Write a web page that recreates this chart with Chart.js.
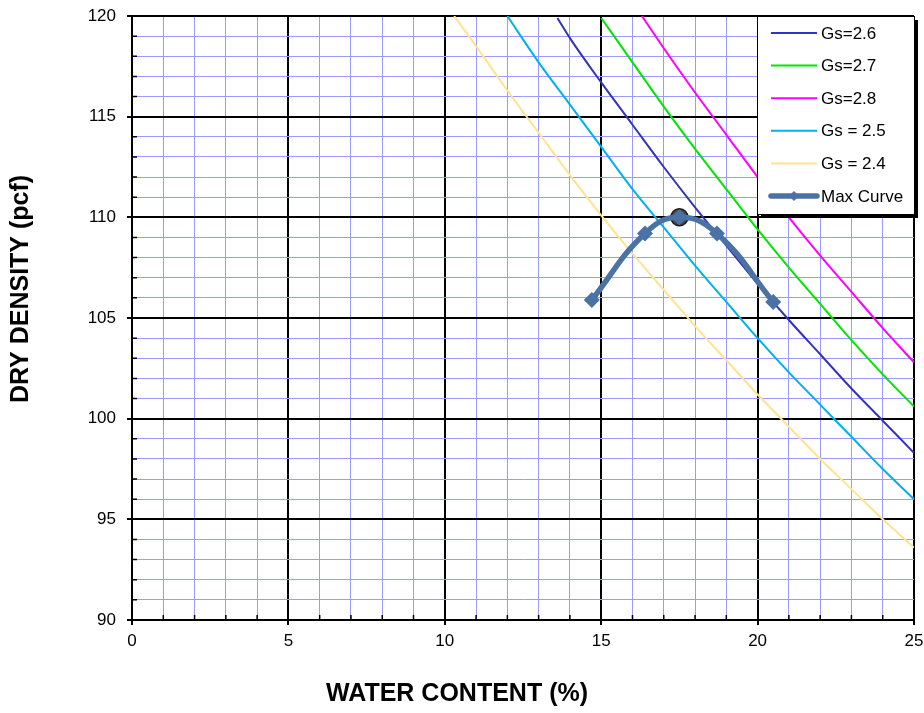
<!DOCTYPE html>
<html>
<head>
<meta charset="utf-8">
<script src="https://cdn.jsdelivr.net/npm/chart.js@4/dist/chart.umd.min.js"></script>
<style>
  html, body { margin: 0; padding: 0; background: #fff; }
  #wrap { width: 924px; height: 713px; }
</style>
</head>
<body>
<div id="wrap"><canvas id="compaction" width="924" height="713"></canvas></div>
<script>
// zero air voids lines (water content %, dry density pcf)
const wGs26 = [13.6, 14, 15, 16, 17, 18, 19, 20, 21, 22, 23, 24, 25]
const dGs26 = [119.9, 118.9, 116.7, 114.6, 112.5, 110.5, 108.6, 106.7, 104.9, 103.2, 101.5, 99.9, 98.3]

const wGs27 = [15, 16, 17, 18, 19, 20, 21, 22, 23, 24, 25]
const dGs27 = [119.9, 117.7, 115.5, 113.4, 111.4, 109.4, 107.5, 105.7, 103.9, 102.2, 100.6]

const wGs28 = [16.3, 17, 18, 19, 20, 21, 22, 23, 24, 25]
const dGs28 = [120, 118.4, 116.2, 114.1, 112.0, 110.0, 108.1, 106.3, 104.5, 102.8]

const wGs25 = [12, 13, 14, 15, 16, 17, 18, 19, 20, 21, 22, 23, 24, 25]
const dGs25 = [120, 117.7, 115.6, 113.5, 111.4, 109.5, 107.6, 105.8, 104.0, 102.3, 100.7, 99.1, 97.5, 96.0]

const wGs24 = [10.3, 11, 12, 13, 14, 15, 16, 17, 18, 19, 20, 21, 22, 23, 24, 25]
const dGs24 = [120, 118.5, 116.3, 114.2, 112.1, 110.1, 108.2, 106.4, 104.6, 102.9, 101.2, 99.6, 98.0, 96.5, 95.0, 93.6]

// compaction test points
const wMax = [14.7, 16.4, 17.5, 18.7, 20.5]
const dMax = [105.9, 109.2, 110.0, 109.2, 105.8]

// optimum
const wOpt = [17.5]
const dOpt = [110.0]

const xTitle = 'WATER CONTENT (%)'
const yTitle = 'DRY DENSITY (pcf)'

const pts = (w, d) => w.map((v, i) => ({ x: v, y: d[i] }))

Chart.defaults.font.family = '"Liberation Sans", Arial, sans-serif'
Chart.defaults.color = '#000'

const thin = (label, w, d, color) => ({
  label: label,
  data: pts(w, d),
  borderColor: color,
  backgroundColor: color,
  borderWidth: 2,
  pointRadius: 0,
  pointHoverRadius: 0,
  cubicInterpolationMode: 'monotone',
  order: 3
})

const isMajor = v => Math.round(v) % 5 === 0

// short black ticks pointing into the plot for the minor gridlines
const minorTicks = {
  id: 'minorTicks',
  afterDraw(chart) {
    const { ctx, chartArea: a, scales } = chart
    ctx.save()
    ctx.strokeStyle = '#000'
    ctx.lineWidth = 1.5
    ctx.beginPath()
    scales.x.ticks.forEach(t => {
      if (isMajor(t.value)) return
      const px = scales.x.getPixelForValue(t.value)
      ctx.moveTo(px, a.bottom)
      ctx.lineTo(px, a.bottom - 5)
    })
    scales.y.ticks.forEach(t => {
      if (isMajor(t.value)) return
      const py = scales.y.getPixelForValue(t.value)
      ctx.moveTo(a.left, py)
      ctx.lineTo(a.left + 5, py)
    })
    ctx.stroke()
    ctx.restore()
  }
}

// axis titles, placed the way the spreadsheet put them
const axisTitles = {
  id: 'axisTitles',
  afterDraw(chart) {
    const { ctx } = chart
    ctx.save()
    ctx.fillStyle = '#000'
    ctx.font = 'bold 25px "Liberation Sans", Arial, sans-serif'
    ctx.textAlign = 'center'
    ctx.textBaseline = 'middle'
    ctx.fillText(xTitle, 457, 694)
    ctx.translate(21, 289)
    ctx.rotate(-Math.PI / 2)
    ctx.fillText(yTitle, 0, 0)
    ctx.restore()
  }
}

// boxed legend in the top right corner of the plot
const boxLegend = {
  id: 'boxLegend',
  afterDraw(chart) {
    const { ctx, chartArea: a } = chart
    const boxW = 157, boxH = 198
    const left = a.right - boxW, top = a.top
    ctx.save()
    ctx.fillStyle = '#000'
    ctx.fillRect(left + 4, top + 4, boxW, boxH)
    ctx.fillStyle = '#fff'
    ctx.fillRect(left, top, boxW, boxH)
    ctx.strokeStyle = '#000'
    ctx.lineWidth = 1
    ctx.strokeRect(left + 0.5, top + 0.5, boxW, boxH)

    const items = chart.data.datasets.filter(d => d.label)
      .sort((p, q) => p.legendIndex - q.legendIndex)
    ctx.font = '17px "Liberation Sans", Arial, sans-serif'
    ctx.textBaseline = 'middle'
    ctx.textAlign = 'left'
    items.forEach((d, i) => {
      const y = top + 17 + i * 32.6
      const x0 = left + 14, x1 = left + 60
      ctx.strokeStyle = d.borderColor
      ctx.lineWidth = d.borderWidth
      ctx.lineCap = d.pointRadius ? 'round' : 'butt'
      ctx.beginPath()
      ctx.moveTo(x0, y)
      ctx.lineTo(x1, y)
      ctx.stroke()
      if (d.pointRadius) {
        const r = 5
        const cx = (x0 + x1) / 2
        ctx.fillStyle = d.backgroundColor
        ctx.beginPath()
        ctx.moveTo(cx, y - r)
        ctx.lineTo(cx + r, y)
        ctx.lineTo(cx, y + r)
        ctx.lineTo(cx - r, y)
        ctx.closePath()
        ctx.fill()
      }
      ctx.fillStyle = '#000'
      ctx.fillText(d.label, left + 64, y + 1)
    })
    ctx.restore()
  }
}

const maxCurve = {
  label: 'Max Curve',
  data: pts(wMax, dMax),
  borderColor: '#4a72a6',
  backgroundColor: '#4a72a6',
  borderWidth: 5.5,
  pointStyle: 'rectRot',
  pointRadius: 8,
  pointHoverRadius: 8,
  pointBorderWidth: 0,
  tension: 0.45,
  order: 1,
  legendIndex: 5
}

const optimum = {
  label: '',
  data: pts(wOpt, dOpt),
  showLine: false,
  pointStyle: 'circle',
  pointRadius: 8.5,
  pointHoverRadius: 8.5,
  backgroundColor: '#4d4d4d',
  borderColor: '#1a1a1a',
  borderWidth: 1.5,
  order: 2
}

const gs26 = Object.assign(thin('Gs=2.6', wGs26, dGs26, '#3333bb'), { legendIndex: 0 })
const gs27 = Object.assign(thin('Gs=2.7', wGs27, dGs27, '#00e600'), { legendIndex: 1 })
const gs28 = Object.assign(thin('Gs=2.8', wGs28, dGs28, '#ff00ff'), { legendIndex: 2 })
const gs25 = Object.assign(thin('Gs = 2.5', wGs25, dGs25, '#00b0f0'), { legendIndex: 3 })
const gs24 = Object.assign(thin('Gs = 2.4', wGs24, dGs24, '#ffe38f'), { legendIndex: 4 })

new Chart(document.getElementById('compaction'), {
  type: 'line',
  data: {
    datasets: [gs26, gs27, gs28, gs25, gs24, optimum, maxCurve]
  },
  options: {
    responsive: false,
    animation: false,
    events: [],
    layout: { padding: { left: 0, top: 16, right: 8, bottom: 0 } },
    plugins: {
      legend: { display: false },
      tooltip: { enabled: false }
    },
    scales: {
      x: {
        type: 'linear',
        min: 0,
        max: 25,
        afterFit: s => {
          s.height = 93
          s.paddingLeft = 0
          s.paddingRight = 0
        },
        ticks: {
          stepSize: 1,
          autoSkip: false,
          maxRotation: 0,
          padding: 6,
          font: { size: 17 },
          callback: v => isMajor(v) ? v : ''
        },
        grid: {
          color: c => isMajor(c.tick.value) ? '#000' : '#9a9aff',
          lineWidth: c => isMajor(c.tick.value) ? 2 : 1,
          tickColor: c => isMajor(c.tick.value) ? '#000' : 'rgba(0,0,0,0)',
          tickLength: 5
        },
        border: { color: '#000', width: 2 }
      },
      y: {
        min: 90,
        max: 120,
        afterFit: s => {
          s.width = 132
          s.paddingTop = 0
          s.paddingBottom = 0
        },
        ticks: {
          stepSize: 1,
          autoSkip: false,
          padding: 11,
          font: { size: 17 },
          callback: v => isMajor(v) ? v : ''
        },
        grid: {
          color: c => isMajor(c.tick.value) ? '#000' : '#9a9aff',
          lineWidth: c => isMajor(c.tick.value) ? 2 : 1,
          tickColor: c => isMajor(c.tick.value) ? '#000' : 'rgba(0,0,0,0)',
          tickLength: 5
        },
        border: { color: '#000', width: 2 }
      }
    }
  },
  plugins: [minorTicks, axisTitles, boxLegend]
})
</script>
</body>
</html>
